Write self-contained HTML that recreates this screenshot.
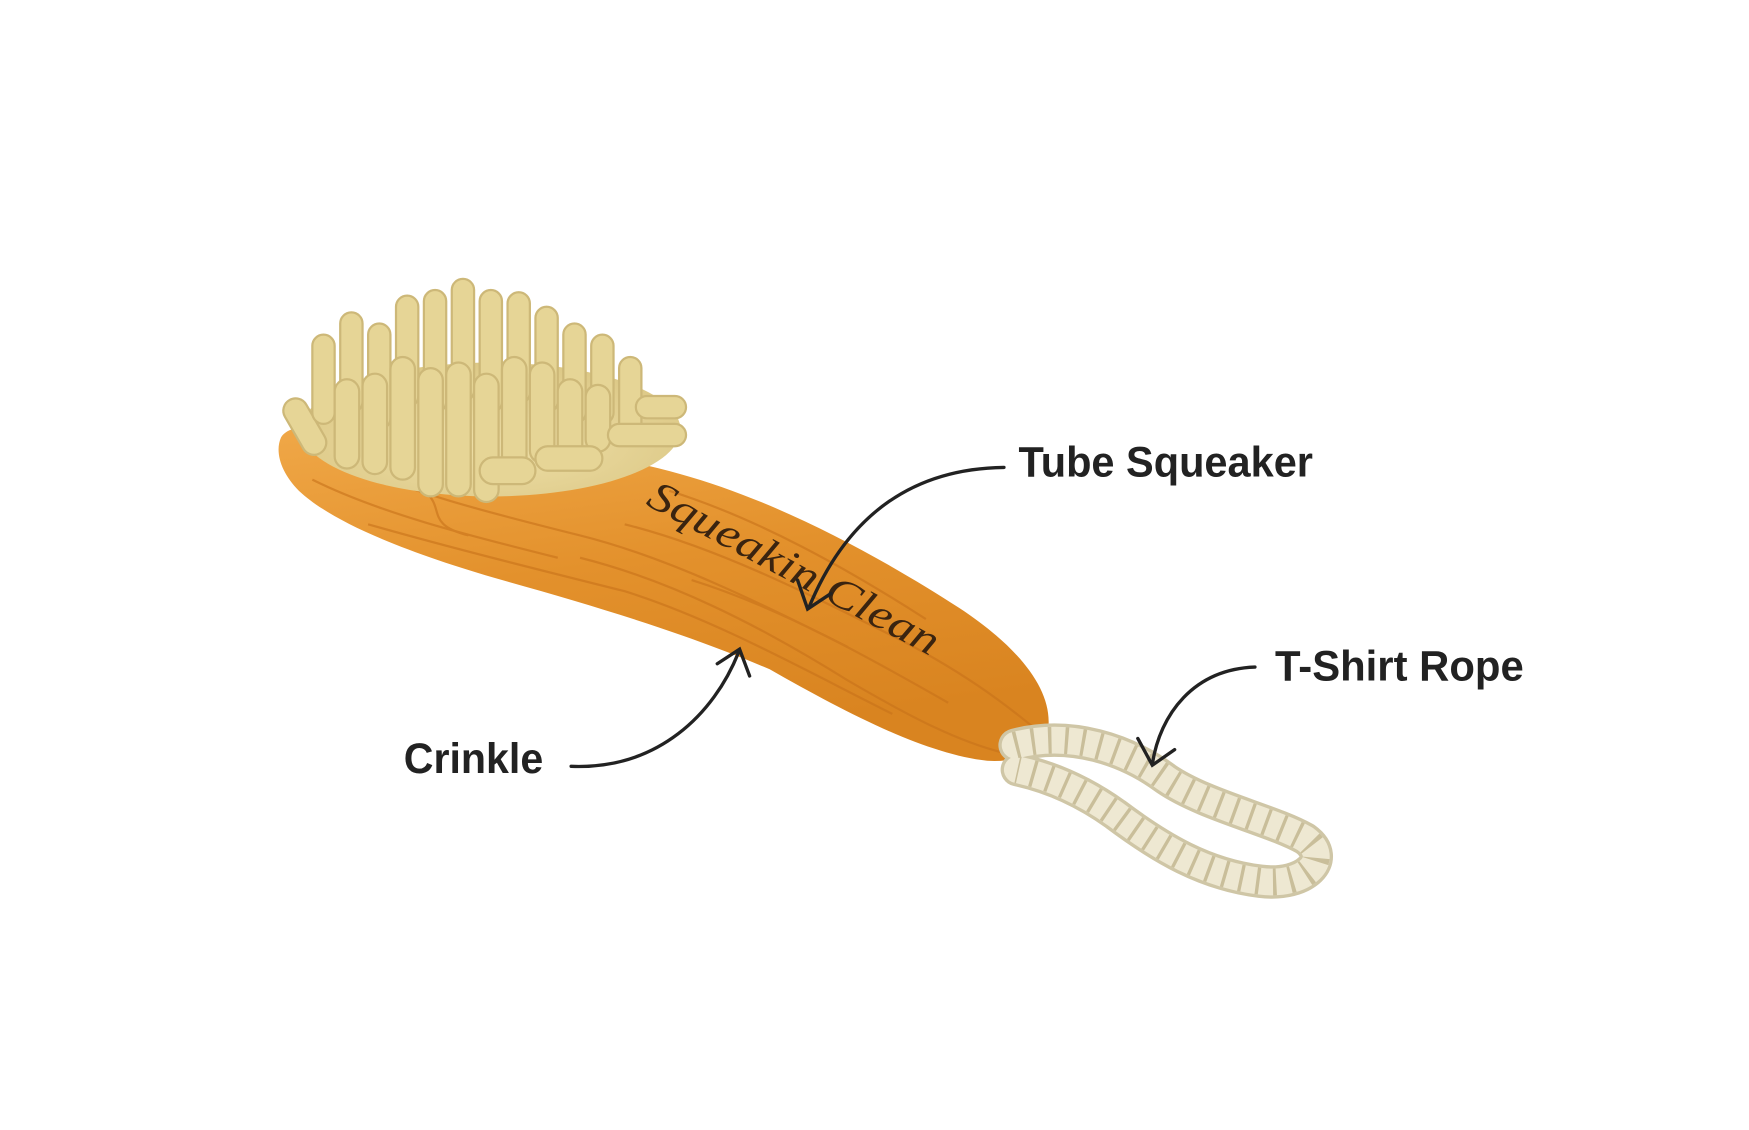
<!DOCTYPE html>
<html><head><meta charset="utf-8"><style>
html,body{margin:0;padding:0;background:#fff;width:1749px;height:1130px;overflow:hidden}
</style></head><body>
<svg width="1749" height="1130" viewBox="0 0 1749 1130" xmlns="http://www.w3.org/2000/svg">
<defs>
<linearGradient id="wood" x1="0" y1="0" x2="0.3" y2="1">
<stop offset="0" stop-color="#f0a848"/><stop offset="0.5" stop-color="#e3912c"/><stop offset="1" stop-color="#d98420"/>
</linearGradient>
<radialGradient id="pad" cx="0.5" cy="0.6" r="0.6"><stop offset="0" stop-color="#efe0a8"/><stop offset="1" stop-color="#dcc886"/></radialGradient>
</defs>
<g transform="scale(1.1155)">
<path d="M252,392 C260,378 300,378 360,385 C440,392 540,405 610,425 C700,450 790,500 860,545 C910,578 942,615 940,650 C938,672 915,684 885,682 C830,676 760,640 690,600 C620,570 540,545 450,520 C370,497 300,470 268,440 C252,424 246,405 252,392 Z" fill="url(#wood)"/>
<g stroke="#c8721a" stroke-width="2" fill="none" opacity="0.6">
<path d="M280,430 C340,460 420,480 500,500"/>
<path d="M300,410 C360,440 440,460 520,480 C600,500 680,540 760,580"/>
<path d="M330,470 C400,490 480,510 560,530 C640,555 720,600 800,640"/>
<path d="M560,470 C640,490 720,530 800,570 C860,600 900,630 930,655"/>
<path d="M600,440 C680,465 760,510 830,555"/>
<path d="M520,500 C600,520 680,560 760,610 C820,645 860,665 900,675"/>
<path d="M620,520 C700,545 780,590 850,630"/>
<path d="M290,395 C320,420 350,420 380,440 C400,455 380,470 420,480"/>
</g>
<ellipse cx="440" cy="385" rx="170" ry="60" fill="url(#pad)"/>
<g fill="#e6d596" stroke="#cdb878" stroke-width="2">
<rect x="262" y="355" width="22" height="55" rx="11" transform="rotate(-30 273 382)"/>
<rect x="280" y="300" width="20" height="80" rx="10"/>
<rect x="305" y="280" width="20" height="90" rx="10"/>
<rect x="330" y="290" width="20" height="95" rx="10"/>
<rect x="355" y="265" width="20" height="100" rx="10"/>
<rect x="380" y="260" width="20" height="110" rx="10"/>
<rect x="405" y="250" width="20" height="110" rx="10"/>
<rect x="430" y="260" width="20" height="110" rx="10"/>
<rect x="455" y="262" width="20" height="100" rx="10"/>
<rect x="480" y="275" width="20" height="95" rx="10"/>
<rect x="505" y="290" width="20" height="90" rx="10"/>
<rect x="530" y="300" width="20" height="80" rx="10"/>
<rect x="555" y="320" width="20" height="70" rx="10"/>
<rect x="300" y="340" width="22" height="80" rx="11"/>
<rect x="325" y="335" width="22" height="90" rx="11"/>
<rect x="350" y="320" width="22" height="110" rx="11"/>
<rect x="375" y="330" width="22" height="115" rx="11"/>
<rect x="400" y="325" width="22" height="120" rx="11"/>
<rect x="425" y="335" width="22" height="115" rx="11"/>
<rect x="450" y="320" width="22" height="100" rx="11"/>
<rect x="475" y="325" width="22" height="90" rx="11"/>
<rect x="500" y="340" width="22" height="70" rx="11"/>
<rect x="525" y="345" width="22" height="60" rx="11"/>
<rect x="545" y="380" width="70" height="20" rx="10"/>
<rect x="570" y="355" width="45" height="20" rx="10"/>
<rect x="480" y="400" width="60" height="22" rx="11"/>
<rect x="430" y="410" width="50" height="24" rx="12"/>
</g>
<text x="0" y="0" transform="translate(578,452) rotate(28)" font-family="'Liberation Serif',serif" font-style="italic" font-size="38" fill="#3a2410" textLength="290" lengthAdjust="spacingAndGlyphs">Squeakin Clean</text>
<g fill="none">
<path d="M910,668 C960,655 1010,672 1045,698 C1080,722 1140,735 1170,752 C1195,770 1170,795 1130,790 C1080,784 1040,760 1000,730 C965,705 935,695 912,690" stroke="#cfc6a6" stroke-width="30" stroke-linecap="round"/>
<path d="M910,668 C960,655 1010,672 1045,698 C1080,722 1140,735 1170,752 C1195,770 1170,795 1130,790 C1080,784 1040,760 1000,730 C965,705 935,695 912,690" stroke="#eee8d2" stroke-width="24" stroke-linecap="round"/>
<path d="M910,668 C960,655 1010,672 1045,698 C1080,722 1140,735 1170,752 C1195,770 1170,795 1130,790 C1080,784 1040,760 1000,730 C965,705 935,695 912,690" stroke="#c9be9a" stroke-width="24" stroke-dasharray="3 12" stroke-linecap="butt"/>
</g>
<g fill="none" stroke="#222" stroke-width="3" stroke-linecap="round">
<path d="M900,419 C820,420 760,460 725,545"/>
<path d="M715,520 L724,546 L745,532"/>
<path d="M512,687 C590,690 640,640 662,585"/>
<path d="M643,595 L663,582 L672,606"/>
<path d="M1125,598 C1070,600 1040,640 1033,685"/>
<path d="M1020,662 L1033,686 L1053,672"/>
</g>
<g font-family="'Liberation Sans',sans-serif" font-weight="bold" font-size="38" fill="#222">
<text x="913" y="427" textLength="264" lengthAdjust="spacingAndGlyphs">Tube Squeaker</text>
<text x="1143" y="610" textLength="223" lengthAdjust="spacingAndGlyphs">T-Shirt Rope</text>
<text x="362" y="693" textLength="125" lengthAdjust="spacingAndGlyphs">Crinkle</text>
</g>
</g>
</svg>
</body></html>
